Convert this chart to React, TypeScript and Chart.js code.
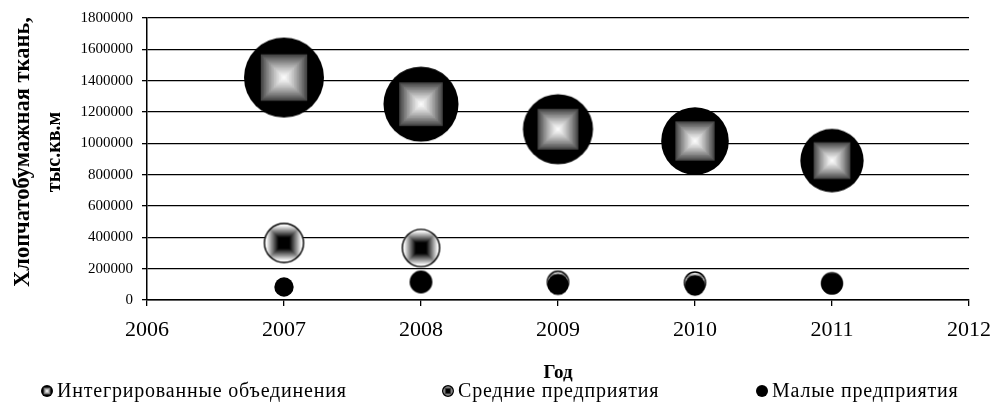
import React, { useEffect, useRef } from "react";
import { Chart, registerables } from "chart.js";

Chart.register(...registerables);

// ---- data ----
const years = [2007, 2008, 2009, 2010, 2011];
const integrated = [1420000, 1250000, 1090000, 1015000, 890000];
const medium = [364000, 332000, 115000, 112000, 108000];
const small = [83000, 115000, 99000, 92000, 104000];
const seriesLabels = [
  "Интегрированные объединения",
  "Средние предприятия",
  "Малые предприятия",
];
const xMin = 2006;
const xMax = 2012;
const xStep = 1;
const yMin = 0;
const yMax = 1800000;
const yStep = 200000;
const yTitleLines = ["Хлопчатобумажная ткань,", "тыс.кв.м"];
const xTitle = "Год";

// ---- styling helpers ----
const SERIF = '"Liberation Serif", "Times New Roman", serif';
const MAX_R = 40;
const maxValue = Math.max(...integrated, ...medium, ...small);
const radiusOf = (v: number) => MAX_R * Math.sqrt(v / maxValue);

type Kind = "int" | "med" | "small";

function makeMarker(kind: Kind, r: number): HTMLCanvasElement {
  const size = Math.ceil(r * 2) + 2;
  const c = document.createElement("canvas");
  c.width = size;
  c.height = size;
  const ctx = c.getContext("2d")!;
  const cx = size / 2;
  const cy = size / 2;
  ctx.beginPath();
  ctx.arc(cx, cy, r, 0, Math.PI * 2);
  ctx.closePath();
  if (kind === "small") {
    ctx.fillStyle = "#000";
    ctx.fill();
  } else if (kind === "int") {
    ctx.fillStyle = "#000";
    ctx.fill();
    ctx.save();
    ctx.clip();
    const half = r * 0.58;
    const steps = 14;
    for (let i = 0; i < steps; i++) {
      const t = 1 - i / steps;
      const h = half * t;
      const g = Math.round(255 - (255 - 70) * Math.pow(t, 1.3));
      ctx.fillStyle = `rgb(${g},${g},${g})`;
      ctx.fillRect(cx - h, cy - h, 2 * h, 2 * h);
    }
    ctx.restore();
  } else {
    ctx.fillStyle = "#fff";
    ctx.fill();
    ctx.save();
    ctx.clip();
    const half = r;
    const steps = 18;
    for (let i = 0; i < steps; i++) {
      const t = 1 - i / steps;
      const h = half * t;
      const k = Math.max(0, Math.min(1, (t - 0.3) / 0.6));
      const g = Math.round(255 * k);
      ctx.fillStyle = `rgb(${g},${g},${g})`;
      ctx.fillRect(cx - h, cy - h, 2 * h, 2 * h);
    }
    ctx.restore();
    ctx.beginPath();
    ctx.arc(cx, cy, r - 0.7, 0, Math.PI * 2);
    ctx.lineWidth = 1.4;
    ctx.strokeStyle = "#000";
    ctx.stroke();
  }
  return c;
}

function buildDataset(label: string, values: number[], kind: Kind, order: number) {
  const data = years.map((x, i) => ({ x, y: values[i], r: radiusOf(values[i]) }));
  return {
    label,
    data,
    order,
    pointStyle: data.map((d) => makeMarker(kind, d.r)),
    backgroundColor: "#000",
    borderWidth: 0,
  };
}

const kinds: Kind[] = ["int", "med", "small"];

const overlayPlugin = {
  id: "overlay",
  afterDraw(chart: any) {
    const ctx = chart.ctx as CanvasRenderingContext2D;
    // y-axis title (two lines)
    ctx.save();
    ctx.fillStyle = "#000";
    ctx.textAlign = "center";
    ctx.textBaseline = "middle";
    ctx.translate(23, 152);
    ctx.rotate(-Math.PI / 2);
    ctx.font = `bold 22.5px ${SERIF}`;
    ctx.fillText(yTitleLines[0], 0, 0);
    ctx.restore();
    ctx.save();
    ctx.fillStyle = "#000";
    ctx.textAlign = "center";
    ctx.textBaseline = "middle";
    ctx.translate(55, 152);
    ctx.rotate(-Math.PI / 2);
    ctx.font = `bold 20px ${SERIF}`;
    ctx.fillText(yTitleLines[1], 0, 0);
    ctx.restore();

    // legend
    const legendX = [47, 448, 762];
    const legendY = 391;
    ctx.save();
    ctx.font = `20px ${SERIF}`;
    (ctx as any).letterSpacing = "0.8px";
    ctx.fillStyle = "#000";
    ctx.textAlign = "left";
    ctx.textBaseline = "middle";
    seriesLabels.forEach((lab, i) => {
      const m = makeMarker(kinds[i], 6);
      ctx.drawImage(m, legendX[i] - m.width / 2, legendY - m.height / 2);
      ctx.fillText(lab, legendX[i] + 10, legendY + 1);
    });
    ctx.restore();
  },
};

export default function App() {
  const ref = useRef<HTMLCanvasElement | null>(null);
  useEffect(() => {
    document.body.style.margin = "0";
    document.body.style.overflow = "hidden";
    if (!ref.current) return;
    const chart = new Chart(ref.current, {
      type: "bubble",
      data: {
        datasets: [
          buildDataset(seriesLabels[0], integrated, "int", 3),
          buildDataset(seriesLabels[1], medium, "med", 2),
          buildDataset(seriesLabels[2], small, "small", 1),
        ] as any,
      },
      options: {
        animation: false,
        responsive: true,
        maintainAspectRatio: false,
        events: [],
        layout: { autoPadding: false, padding: { top: 18, right: 23, left: 0, bottom: 0 } },
        plugins: {
          legend: { display: false },
          tooltip: { enabled: false },
        },
        scales: {
          x: {
            type: "linear",
            min: xMin,
            max: xMax,
            ticks: {
              stepSize: xStep,
              color: "#000",
              font: { family: SERIF, size: 22 },
              padding: 11,
              maxRotation: 0,
              autoSkip: false,
              callback: (v: any) => String(v),
            },
            grid: {
              display: true,
              drawOnChartArea: false,
              drawTicks: true,
              tickLength: 6,
              color: "#000",
              lineWidth: 1.3,
            },
            border: { display: true, color: "#000", width: 1.5 },
            title: {
              display: true,
              text: xTitle,
              color: "#000",
              font: { family: SERIF, size: 19, weight: "bold" },
              padding: { top: 0, bottom: 22 },
            },
            afterFit: (s: any) => {
              s.height = 106;
              s.paddingLeft = 0;
              s.paddingRight = 0;
            },
          },
          y: {
            min: yMin,
            max: yMax,
            ticks: {
              stepSize: yStep,
              color: "#000",
              font: { family: SERIF, size: 15 },
              padding: 9,
              callback: (v: any) => String(v),
            },
            grid: {
              color: "#000",
              lineWidth: 1.3,
              drawTicks: true,
              tickLength: 5,
              tickColor: "#000",
            },
            border: { display: true, color: "#000", width: 1.5 },
            afterFit: (s: any) => {
              s.width = 147;
              s.paddingTop = 0;
              s.paddingBottom = 0;
            },
          },
        },
      } as any,
      plugins: [overlayPlugin],
    });
    return () => chart.destroy();
  }, []);
  return (
    <div style={{ width: 992, height: 406, position: "relative" }}>
      <canvas ref={ref} />
    </div>
  );
}
